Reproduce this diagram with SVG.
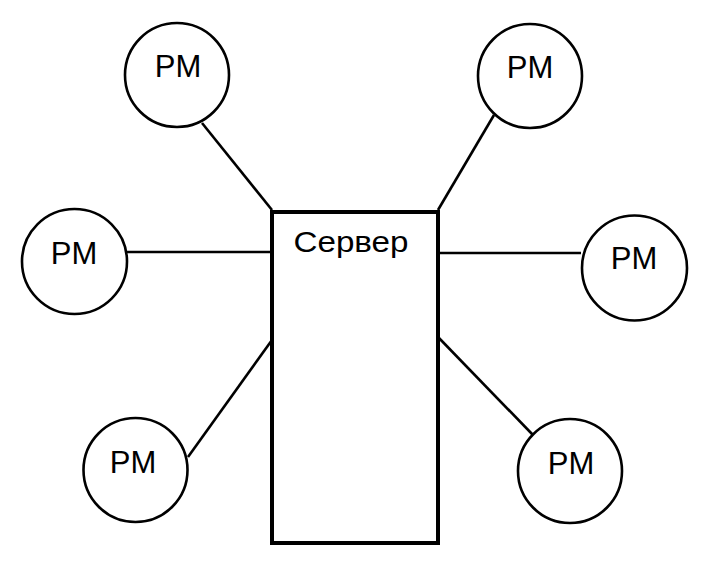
<svg xmlns="http://www.w3.org/2000/svg" width="710" height="566" viewBox="0 0 710 566">
<style>
.node circle{fill:#fff;stroke:#000;stroke-width:2.6}
.lbl{font-family:"Liberation Sans",Arial,sans-serif;font-size:31px;fill:#000;text-anchor:middle}
.edges line{stroke:#000;stroke-width:2.6}
</style>
<rect width="710" height="566" fill="#fff"/>
<g id="connectors" class="edges">
<line x1="202" y1="123" x2="272" y2="210"/>
<line x1="494" y1="115" x2="438" y2="210"/>
<line x1="127" y1="252" x2="272" y2="252"/>
<line x1="438" y1="253" x2="581" y2="253"/>
<line x1="188" y1="457" x2="272" y2="340"/>
<line x1="438" y1="337" x2="533" y2="435"/>
</g>
<g id="server">
<rect x="272" y="212" width="166" height="331" fill="#fff" stroke="#000" stroke-width="4"/>
<text x="351" y="252" style="font-family:'Liberation Sans',Arial,sans-serif;font-size:29px;text-anchor:middle" textLength="115" lengthAdjust="spacingAndGlyphs">Сервер</text>
</g>
<g id="pm1" class="node"><circle cx="177" cy="75" r="52"/><text class="lbl" x="178" y="77">PM</text></g>
<g id="pm2" class="node"><circle cx="530" cy="76" r="52"/><text class="lbl" x="530" y="78">PM</text></g>
<g id="pm3" class="node"><circle cx="74.5" cy="261.5" r="52.5"/><text class="lbl" x="74" y="264">PM</text></g>
<g id="pm4" class="node"><circle cx="634.5" cy="268" r="52.5"/><text class="lbl" x="634" y="269">PM</text></g>
<g id="pm5" class="node"><circle cx="135.5" cy="470" r="52"/><text class="lbl" x="133" y="473">PM</text></g>
<g id="pm6" class="node"><circle cx="570" cy="471" r="52"/><text class="lbl" x="571" y="474">PM</text></g>
</svg>
